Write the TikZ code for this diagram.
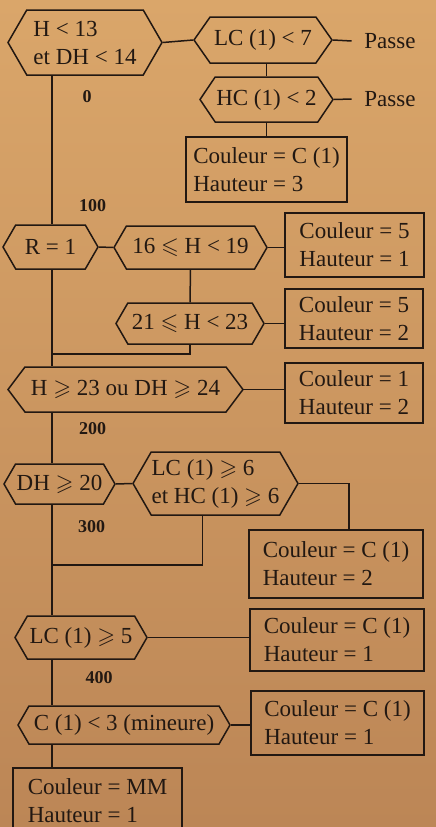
\documentclass[tikz,border=0pt]{standalone}
\usepackage{amssymb}
\usepackage{fontspec}
\setmainfont{Liberation Serif}
\usetikzlibrary{shapes.symbols}

\definecolor{ink}{RGB}{34,24,18}
\definecolor{papertop}{RGB}{218,166,106}
\definecolor{paperbot}{RGB}{188,134,86}

\begin{document}
\begin{tikzpicture}[x=1pt,y=-1pt,line width=1.5pt,color=ink,
  font=\fontsize{23}{28}\selectfont,
  test/.style={draw,signal,signal to=east and west,signal pointer angle=120,
    inner sep=0pt,align=left},
  res/.style={draw,rectangle,inner sep=0pt,align=left},
  passe/.style={inner xsep=12pt,inner ysep=0pt},
  num/.style={font=\fontsize{18}{20}\selectfont\bfseries}]
  \useasboundingbox (0,0) rectangle (436,827);
  \shade[top color=papertop,bottom color=paperbot] (0,0) rectangle (436,827);
  \clip (0,0) rectangle (436,827);

  \node[test,minimum width=154,minimum height=65] (A) at (85,42.5) {H < 13\\et DH < 14};
  \node[test,minimum width=138,minimum height=46,signal pointer angle=110] (B) at (263,40) {LC (1) < 7};
  \node[passe] (p1) at (390,41) {Passe};
  \node[test,minimum width=133,minimum height=45,signal pointer angle=112] (C) at (266.5,99.5) {HC (1) < 2};
  \node[passe] (p2) at (390,99) {Passe};
  \node[res,minimum width=161,minimum height=65] (D) at (266.5,169.5) {Couleur = C (1)\\Hauteur = 3};

  \node[test,minimum width=95,minimum height=44] (R) at (50.5,247) {R = 1};
  \node[test,minimum width=153,minimum height=43] (E) at (190.5,247.5) {16 $\leqslant$ H < 19};
  \node[res,minimum width=139,minimum height=64] (F) at (354.5,245) {Couleur = 5\\Hauteur = 1};
  \node[test,minimum width=148,minimum height=41] (G) at (190,323.5) {21 $\leqslant$ H < 23};
  \node[res,minimum width=138,minimum height=59] (H) at (354,318.5) {Couleur = 5\\Hauteur = 2};

  \node[test,minimum width=235,minimum height=45,signal pointer angle=106] (I) at (125.5,389.5) {H $\geqslant$ 23 ou DH $\geqslant$ 24};
  \node[res,minimum width=138,minimum height=60] (J) at (354,393) {Couleur = 1\\Hauteur = 2};

  \node[test,minimum width=111,minimum height=40] (K) at (59.5,484) {DH $\geqslant$ 20};
  \node[test,minimum width=165,minimum height=63] (L) at (215.5,483.5) {LC (1) $\geqslant$ 6\\et HC (1) $\geqslant$ 6};
  \node[res,minimum width=174,minimum height=68] (M) at (336,564) {Couleur = C (1)\\Hauteur = 2};

  \node[test,minimum width=132,minimum height=43] (N) at (81,637.5) {LC (1) $\geqslant$ 5};
  \node[res,minimum width=174,minimum height=62] (O) at (337,640) {Couleur = C (1)\\Hauteur = 1};
  \node[test,minimum width=212,minimum height=38] (P) at (124,725) {C (1) < 3 (mineure)};
  \node[res,minimum width=173,minimum height=64] (Q) at (337.5,723) {Couleur = C (1)\\Hauteur = 1};
  \node[res,minimum width=169,minimum height=66] (S) at (97.5,801) {Couleur = MM\\Hauteur = 1};

  \node[num] (n0) at (87,97) {0};
  \node[num] (n1) at (92.5,206) {100};
  \node[num] (n2) at (92.5,429) {200};
  \node[num] (n3) at (91.5,527) {300};
  \node[num] (n4) at (99,678) {400};

  \coordinate (sp) at (52,0);
  \coordinate (j1) at (52,354);
  \coordinate (j2) at (52,565);

  \draw (A.east) -- (B.west);
  \draw (B.east) -- (p1.west);
  \draw (B.south -| C.north) -- (C.north);
  \draw (C.east) -- (p2.west);
  \draw (C.south) -- (D.north);
  \draw (A.south -| sp) -- (R.north -| sp);
  \draw (R.east) -- (E.west);
  \draw (E.east) -- (E.east -| F.west);
  \draw (E.south) -- (G.north);
  \draw (G.east) -- (G.east -| H.west);
  \draw (G.south) |- (j1);
  \draw (R.south -| sp) -- (I.north -| sp);
  \draw (I.east) -- (I.east -| J.west);
  \draw (I.south -| sp) -- (K.north -| sp);
  \draw (K.east) -- (L.west);
  \draw (L.east) -| ([xshift=13pt]M.north);
  \draw ([xshift=-13pt]L.south) |- (j2);
  \draw (K.south -| sp) -- (N.north -| sp);
  \draw (N.east) -- (N.east -| O.west);
  \draw (N.south -| sp) -- (P.north -| sp);
  \draw (P.east) -- (P.east -| Q.west);
  \draw (P.south -| sp) -- (S.north -| sp);
\end{tikzpicture}
\end{document}
